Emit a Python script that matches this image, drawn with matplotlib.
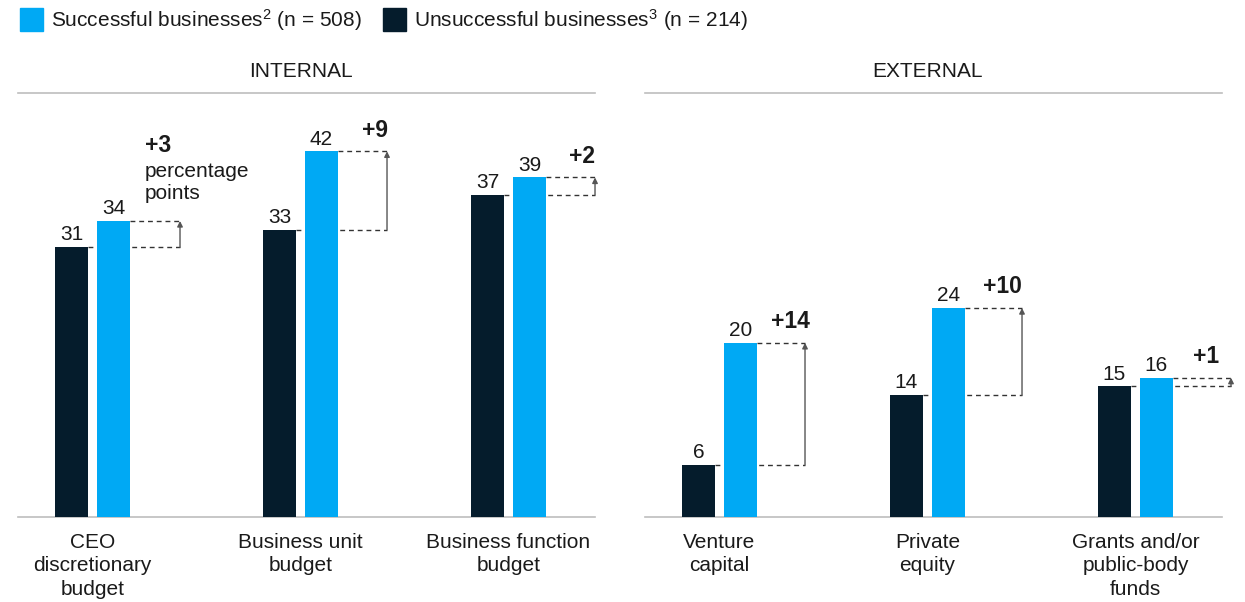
import numpy as np
import matplotlib
matplotlib.use("Agg")
import matplotlib.pyplot as plt
from matplotlib.patches import Rectangle

plt.rcParams['font.family'] = ['Liberation Sans', 'DejaVu Sans']
plt.rcParams['mathtext.fontset'] = 'custom'
plt.rcParams['mathtext.rm'] = 'Liberation Sans'
plt.rcParams['mathtext.it'] = 'Liberation Sans'

BLUE = '#00a9f4'
DARK = '#051c2c'
TEXT = '#1a1a1a'
RULE = '#bdbdbd'

# share of businesses using each funding source, %
internal_cats = ['CEO\ndiscretionary\nbudget', 'Business unit\nbudget', 'Business function\nbudget']
internal_unsuccessful = [31, 33, 37]
internal_successful = [34, 42, 39]

external_cats = ['Venture\ncapital', 'Private\nequity', 'Grants and/or\npublic-body\nfunds']
external_unsuccessful = [6, 14, 15]
external_successful = [20, 24, 16]

legend_labels = ['Successful businesses$^{2}$ (n = 508)',
                 'Unsuccessful businesses$^{3}$ (n = 214)']

W, H = 1245, 602
fig = plt.figure(figsize=(W / 100, H / 100), dpi=100)

BAR_W = 0.159
OFF = 0.101
PX = 0.72  # pixels -> points at 100 dpi


def panel(left_px, title, cats, unsucc, succ, arrow_px, label_px, note_first=False):
    ax = fig.add_axes([left_px / W, 85 / H, 577 / W, 424 / H])
    x = np.arange(len(cats))
    ax.bar(x - OFF, unsucc, BAR_W, color=DARK, zorder=3)
    ax.bar(x + OFF, succ, BAR_W, color=BLUE, zorder=3)
    ax.set_xlim(-0.358, 2.416)
    ax.set_ylim(0, 48.7)

    for xi, u, s, ap, lp in zip(x, unsucc, succ, arrow_px, label_px):
        ax.annotate(f'{u}', (xi - OFF, u), xytext=(0, 2), textcoords='offset points',
                    ha='center', va='bottom', fontsize=15, color=TEXT)
        ax.annotate(f'{s}', (xi + OFF, s), xytext=(0, 2), textcoords='offset points',
                    ha='center', va='bottom', fontsize=15, color=TEXT)

        # difference bracket: dashed guides plus arrow
        edge = xi + OFF + BAR_W / 2
        xa = edge + ap / 208
        ax.plot([xi - OFF + BAR_W / 2, xa], [u, u], color='#333333', lw=1,
                ls=(0, (3.5, 2.8)), zorder=2, clip_on=False)
        ax.plot([edge, xa], [s, s], color='#333333', lw=1,
                ls=(0, (3.5, 2.8)), zorder=2, clip_on=False)
        ax.annotate('', xy=(xa, s), xytext=(xa, u),
                    arrowprops=dict(arrowstyle='-|>', color='#555555', lw=1,
                                    mutation_scale=8, shrinkA=0, shrinkB=0),
                    annotation_clip=False)

        diff = f'+{s - u}'
        if note_first and xi == 0:
            ax.annotate(diff, (edge, s), xytext=(lp * PX, 50), textcoords='offset points',
                        ha='left', va='baseline', fontsize=16.5, fontweight='bold', color=TEXT)
            ax.annotate('percentage\npoints', (edge, s), xytext=(lp * PX, 15.5),
                        textcoords='offset points', ha='left', va='baseline',
                        fontsize=15, color=TEXT, linespacing=1.2)
        else:
            ax.annotate(diff, (edge, s), xytext=(lp * PX, 7), textcoords='offset points',
                        ha='left', va='bottom', fontsize=16.5, fontweight='bold',
                        color=TEXT, annotation_clip=False)

    for xi, c in zip(x, cats):
        ax.text(xi, -1.8, c, ha='center', va='top', fontsize=15, color=TEXT,
                linespacing=1.32)

    ax.set_xticks([])
    ax.set_yticks([])
    for side in ('left', 'right'):
        ax.spines[side].set_visible(False)
    for side in ('top', 'bottom'):
        ax.spines[side].set_color(RULE)
        ax.spines[side].set_linewidth(1.2)
    ax.text(0.5 - 6 / 577, 1 + 16 / 424, title, transform=ax.transAxes,
            ha='center', va='baseline', fontsize=15, color=TEXT)
    return ax


panel(18, 'INTERNAL', internal_cats, internal_unsuccessful, internal_successful,
      arrow_px=[50, 49, 49], label_px=[15, 24, 23], note_first=True)
panel(645, 'EXTERNAL', external_cats, external_unsuccessful, external_successful,
      arrow_px=[48, 57, 58], label_px=[14, 18, 20])

# legend row
for (xp, col), lab in zip([(20, BLUE), (383, DARK)], legend_labels):
    fig.patches.append(Rectangle((xp / W, 1 - 31 / H), 23 / W, 23 / H,
                                 transform=fig.transFigure, color=col))
    fig.text((xp + 31) / W, 1 - 20 / H, lab, ha='left', va='center',
             fontsize=15, color=TEXT)

fig.savefig('out.png', dpi=100)
